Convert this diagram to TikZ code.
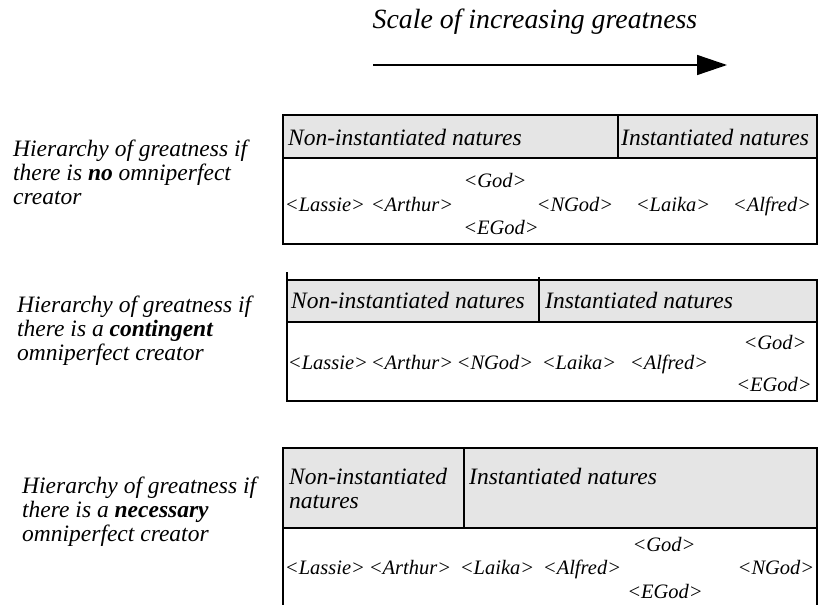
\documentclass[tikz,border=0pt]{standalone}
\usepackage{fontspec}
\setmainfont{Liberation Serif}
\usetikzlibrary{arrows.meta}
\definecolor{headgray}{gray}{0.9}
\tikzset{
	frame/.style={line width=2pt},
	item/.style={inner sep=0pt,text height=14pt,text depth=5pt,yshift=-2pt,font=\itshape\fontsize{20.5}{24}\selectfont},
	head/.style={inner sep=0pt,anchor=west,align=left,font=\itshape\fontsize{23.5}{24}\selectfont},
	side/.style={inner sep=0pt,anchor=west,align=left,font=\itshape\fontsize{23.5}{24}\selectfont},
	title/.style={inner sep=0pt,font=\itshape\fontsize{27.8}{30}\selectfont}
}

\begin{document}
\begin{tikzpicture}[x=1pt,y=-1pt]
			\useasboundingbox (0,0) rectangle (823,605);
			\node[title] (scale) at (535,22) {Scale of increasing greatness};
			\coordinate (arrowstart) at (373,65);
			\coordinate (arrowend) at (727,65);
			\draw[line width=1.5pt,-{Triangle[length=30pt,width=20pt]}] (arrowstart)--(arrowend);
			\node[side] (hierno) at (13,172) {Hierarchy of greatness if\\there is \textbf{no} omniperfect\\creator};
			\node[side] (hiercont) at (17,331) {Hierarchy of greatness if\\there is a \textbf{contingent}\\omniperfect creator};
			\node[side] (hiernec) at (22,512) {Hierarchy of greatness if\\there is a \textbf{necessary}\\omniperfect creator};
			\fill[headgray] (283,115) rectangle (817,158);
			\draw[frame] (283,115) rectangle (817,244);
			\draw[frame] (283,158)--(817,158);
			\draw[frame] (618,115)--(618,158);
			\node[head] (noninstA) at (288,137) {Non-instantiated natures};
			\node[head] (instA) at (621,137) {Instantiated natures};
			\node[item] (lassieA) at (325,205) {<Lassie>};
			\node[item] (arthurA) at (412,205) {<Arthur>};
			\node[item] (godA) at (495,181) {<God>};
			\node[item] (egodA) at (501,228) {<EGod>};
			\node[item] (ngodA) at (575,205) {<NGod>};
			\node[item] (laikaA) at (673,205) {<Laika>};
			\node[item] (alfredA) at (772,205) {<Alfred>};
			\fill[headgray] (287,280) rectangle (817,322);
			\draw[frame] (287,280) rectangle (817,401);
			\draw[frame] (287,272)--(287,280);
			\draw[frame] (287,322)--(817,322);
			\draw[frame] (539,277)--(539,322);
			\node[head] (noninstB) at (291,300) {Non-instantiated natures};
			\node[head] (instB) at (545,300) {Instantiated natures};
			\node[item] (lassieB) at (328,363) {<Lassie>};
			\node[item] (arthurB) at (412,363) {<Arthur>};
			\node[item] (ngodB) at (495,363) {<NGod>};
			\node[item] (laikaB) at (579,363) {<Laika>};
			\node[item] (alfredB) at (669,363) {<Alfred>};
			\node[item] (godB) at (775,343) {<God>};
			\node[item] (egodB) at (774,385) {<EGod>};
			\fill[headgray] (283,448) rectangle (817,528);
			\draw[frame] (283,605)--(283,448)--(817,448)--(817,605);
			\draw[frame] (283,528)--(817,528);
			\draw[frame] (464,448)--(464,528);
			\node[head] (noninstC) at (289,488) {Non-instantiated\\ natures};
			\node[head] (instC) at (469,476) {Instantiated natures};
			\node[item] (lassieC) at (325,568) {<Lassie>};
			\node[item] (arthurC) at (410,568) {<Arthur>};
			\node[item] (laikaC) at (497,568) {<Laika>};
			\node[item] (alfredC) at (582,568) {<Alfred>};
			\node[item] (godC) at (664,545) {<God>};
			\node[item] (egodC) at (665,592) {<EGod>};
			\node[item] (ngodC) at (776,568) {<NGod>};
\end{tikzpicture}
\end{document}
